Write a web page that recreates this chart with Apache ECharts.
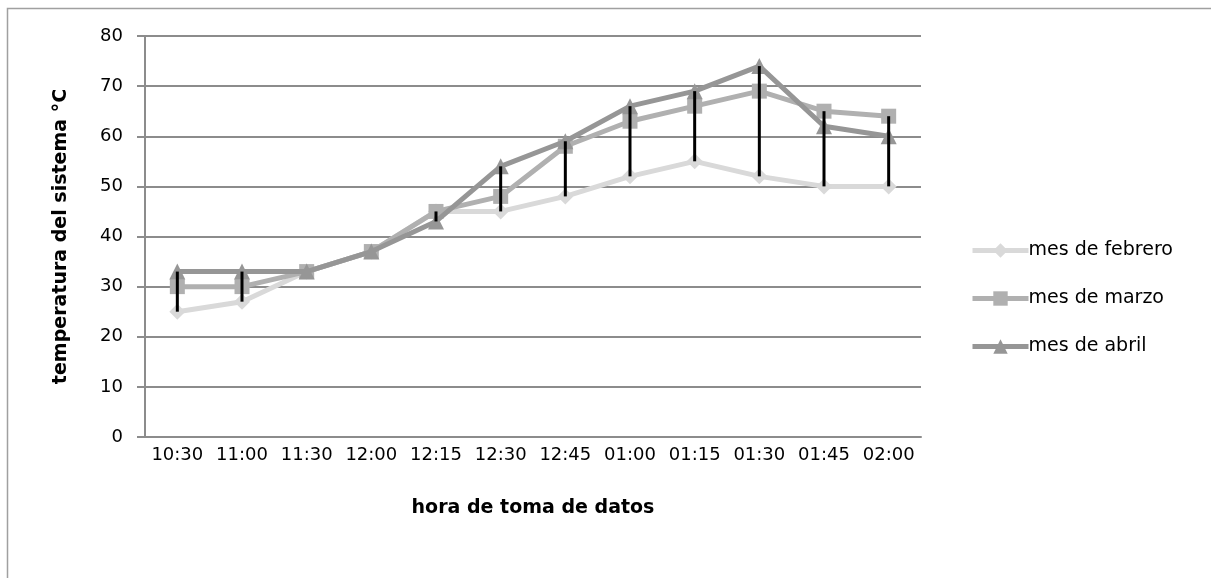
<!DOCTYPE html>
<html>
<head>
<meta charset="utf-8">
<script src="https://cdn.jsdelivr.net/npm/echarts@6/dist/echarts.min.js"></script>
<style>html,body{margin:0;padding:0;background:#fff}#c{width:1211px;height:578px}</style>
</head>
<body>
<div id="c"></div>
<script>
var categories = ['10:30','11:00','11:30','12:00','12:15','12:30','12:45','01:00','01:15','01:30','01:45','02:00'];
var febrero = [25, 27, 33, 37, 45, 45, 48, 52, 55, 52, 50, 50];
var marzo   = [30, 30, 33, 37, 45, 48, 58, 63, 66, 69, 65, 64];
var abril   = [33, 33, 33, 37, 43, 54, 59, 66, 69, 74, 62, 60];
var yTicks  = [0, 10, 20, 30, 40, 50, 60, 70, 80];

var hiLo = categories.map(function (c, i) {
  var v = [febrero[i], marzo[i], abril[i]];
  return [i, Math.min.apply(null, v), Math.max.apply(null, v)];
});

var font = 'DejaVu Sans';
var chart = echarts.init(document.getElementById('c'));
chart.setOption({
  animation: false,
  backgroundColor: '#fff',
  textStyle: { fontFamily: font },
  graphic: [{
    type: 'rect', left: 5, top: 6, z: -10,
    shape: { width: 1300, height: 700 },
    style: { fill: 'none', stroke: '#a0a0a0', lineWidth: 1.5 }
  }],
  grid: { left: 145, top: 36, width: 776, height: 401 },
  legend: {
    orient: 'vertical', left: 965, top: 236, itemGap: 29,
    itemWidth: 56, itemHeight: 18,
    lineStyle: { width: 5 },
    textStyle: { fontSize: 19, color: '#000', fontFamily: font, padding: [0, 0, 0, -5] },
    data: ['mes de febrero', 'mes de marzo', 'mes de abril']
  },
  xAxis: {
    type: 'category', data: categories, boundaryGap: true,
    name: 'hora de toma de datos', nameLocation: 'middle', nameGap: 62,
    nameTextStyle: { fontSize: 19, fontWeight: 'bold', color: '#000', fontFamily: font },
    axisLine: { lineStyle: { color: '#8c8c8c', width: 2 } },
    axisTick: { show: false },
    axisLabel: { color: '#000', fontSize: 18, margin: 9, fontFamily: font, interval: 0, hideOverlap: false }
  },
  yAxis: {
    type: 'value', min: 0, max: 80, interval: 10,
    name: 'temperatura del sistema °C', nameLocation: 'middle', nameGap: 74,
    nameTextStyle: { fontSize: 19, fontWeight: 'bold', color: '#000', fontFamily: font },
    axisLine: { show: true, lineStyle: { color: '#8c8c8c', width: 2 } },
    axisTick: { show: true, length: 8, lineStyle: { color: '#8c8c8c', width: 2 } },
    axisLabel: { color: '#000', fontSize: 18, margin: 22, fontFamily: font,
      formatter: function (v) { return yTicks.indexOf(v) >= 0 ? String(v) : ''; } },
    splitLine: { lineStyle: { color: '#8c8c8c', width: 2 } }
  },
  series: [
    { name: 'mes de febrero', type: 'line', data: febrero, symbol: 'diamond', symbolSize: 16,
      lineStyle: { color: '#d9d9d9', width: 5 }, itemStyle: { color: '#d9d9d9' }, z: 3 },
    { name: 'mes de marzo', type: 'line', data: marzo, symbol: 'rect', symbolSize: 15,
      lineStyle: { color: '#b0b0b0', width: 5 }, itemStyle: { color: '#b0b0b0' }, z: 4 },
    { name: 'mes de abril', type: 'line', data: abril, symbol: 'triangle', symbolSize: 16,
      lineStyle: { color: '#969696', width: 5 }, itemStyle: { color: '#969696' }, z: 5 },
    { name: 'hilo', type: 'custom', data: hiLo, z: 10, silent: true,
      encode: { x: 0, y: [1, 2] },
      renderItem: function (params, api) {
        var p1 = api.coord([api.value(0), api.value(1)]);
        var p2 = api.coord([api.value(0), api.value(2)]);
        return { type: 'line', shape: { x1: p1[0], y1: p1[1], x2: p2[0], y2: p2[1] },
          style: { stroke: '#000', lineWidth: 3 } };
      } }
  ]
});
</script>
</body>
</html>
